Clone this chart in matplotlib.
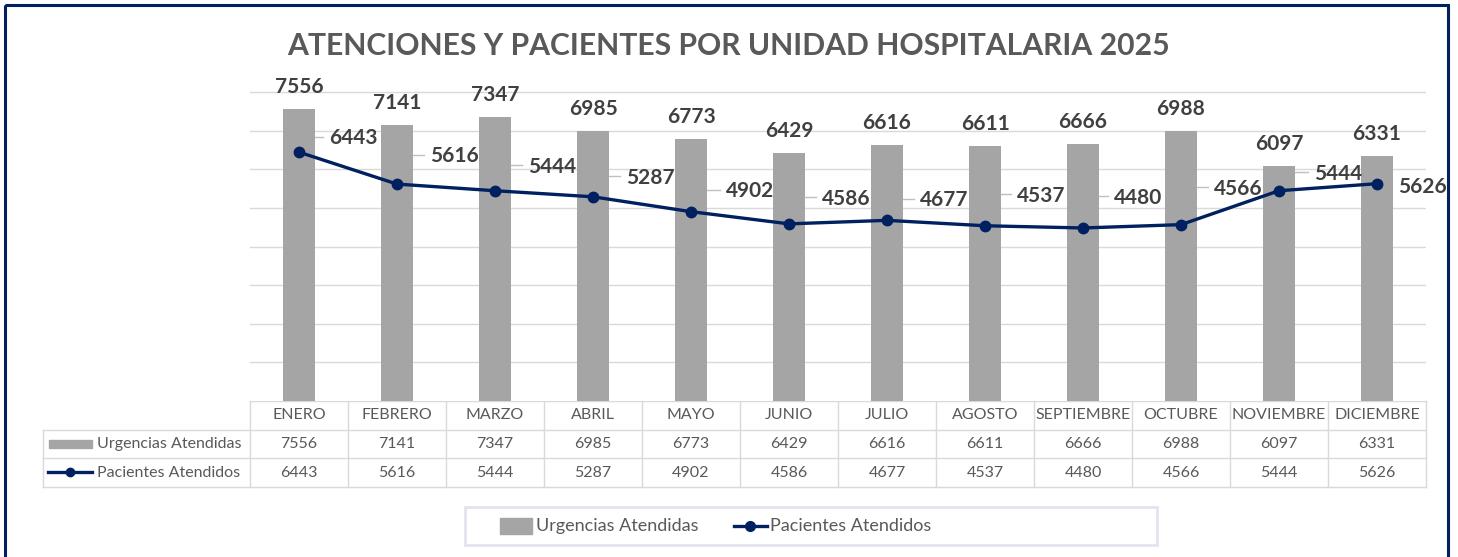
import matplotlib
matplotlib.use('Agg')
import matplotlib.pyplot as plt
from matplotlib.patches import Rectangle

# ── datos ──────────────────────────────────────────────────────────────
meses = ['ENERO', 'FEBRERO', 'MARZO', 'ABRIL', 'MAYO', 'JUNIO', 'JULIO',
         'AGOSTO', 'SEPTIEMBRE', 'OCTUBRE', 'NOVIEMBRE', 'DICIEMBRE']
urgencias = [7556, 7141, 7347, 6985, 6773, 6429, 6616, 6611, 6666, 6988, 6097, 6331]
pacientes = [6443, 5616, 5444, 5287, 4902, 4586, 4677, 4537, 4480, 4566, 5444, 5626]
serie_bar = 'Urgencias Atendidas'
serie_lin = 'Pacientes Atendidos'
titulo = 'ATENCIONES Y PACIENTES POR UNIDAD HOSPITALARIA 2025'

# posiciones de etiquetas de la línea (px: borde izq., base respecto al punto)
off_lin = [(30, 8), (33, 22), (33, 18), (33, 13), (35, 14.5), (33, 19),
           (33, 14), (32, 24), (31, 24), (33, 30), (35, 11), (21, -9.5)]

W, H = 1458, 557
GRIS = '#a5a5a5'; NAVY = '#002060'; TXT = '#595959'; LBL = '#404040'
GRID = '#d9d9d9'

plt.rcParams['font.family'] = ['Lato', 'DejaVu Sans']

fig = plt.figure(figsize=(W / 100, H / 100), dpi=100)


def fx(px): return px / W
def fy(py): return 1 - py / H


# área de gráfico
L, R, B = 250, 1426, 401
YMAX = 8050
pxu = 309 / 8000                 # px por unidad
T = B - YMAX * pxu
colw = (R - L) / 12

ax = fig.add_axes([fx(L), fy(B), fx(R) - fx(L), fy(T) - fy(B)])
x = list(range(12))
ax.bar(x, urgencias, width=0.33, color=GRIS, zorder=2)
ax.plot(x, pacientes, color=NAVY, lw=2.4, marker='o', ms=7.5, zorder=4)
ax.set_xlim(-0.5, 11.5)
ax.set_ylim(0, YMAX)
ax.set_yticks(range(1000, 8001, 1000))
ax.yaxis.grid(True, color=GRID, lw=1)
ax.set_axisbelow(True)
ax.tick_params(left=False, bottom=False, labelleft=False, labelbottom=False)
for s in ax.spines.values():
    s.set_visible(False)

for i, u in enumerate(urgencias):
    ax.annotate(f'{u}', (i, u), xytext=(0, 16), textcoords='offset pixels',
                ha='center', va='baseline', fontsize=15, fontweight='bold',
                color=LBL, annotation_clip=False)

for i, (p, (dx, dy)) in enumerate(zip(pacientes, off_lin)):
    ax.annotate(f'{p}', (i, p), xytext=(dx, dy), textcoords='offset pixels',
                ha='left', va='baseline', fontsize=15, fontweight='bold',
                color=LBL, zorder=5, annotation_clip=False)
    if i < 11:
        yl = p + (dy + 7.5) / pxu
        ax.plot([i + 0.165, i + (dx - 6) / colw], [yl, yl], color='#bfbfbf',
                lw=1, zorder=3)

fig.text(fx(728), fy(46), titulo, ha='center', va='center', fontsize=21.7,
         fontweight='bold', color=TXT)

# tabla de datos + leyenda (coordenadas de píxel)
ov = fig.add_axes([0, 0, 1, 1], zorder=-1)
ov.set_xlim(0, W); ov.set_ylim(H, 0); ov.axis('off')

ov.plot([L, R], [401, 401], color=GRID, lw=1)
for yy in (430, 458, 487):
    ov.plot([43, R], [yy, yy], color=GRID, lw=1)
for k in range(13):
    xx = L + k * colw
    ov.plot([xx, xx], [401, 487], color=GRID, lw=1)
ov.plot([43, 43], [430, 487], color=GRID, lw=1)

for i in range(12):
    cx = L + colw * (i + 0.5)
    ov.text(cx, 415, meses[i], ha='center', va='center', fontsize=11.5, color=TXT)
    ov.text(cx, 444, f'{urgencias[i]}', ha='center', va='center', fontsize=11.5, color=TXT)
    ov.text(cx, 473, f'{pacientes[i]}', ha='center', va='center', fontsize=11.5, color=TXT)

ov.add_patch(Rectangle((49, 440), 43, 8, color=GRIS))
ov.text(97, 444, serie_bar, ha='left', va='center', fontsize=11.5, color=TXT)
ov.plot([48, 92], [472, 472], color=NAVY, lw=2.4)
ov.plot([70], [472], marker='o', ms=6, color=NAVY)
ov.text(97, 473, serie_lin, ha='left', va='center', fontsize=11.5, color=TXT)

ov.add_patch(Rectangle((465, 507), 692, 38, fill=False, ec='#e6e1f0', lw=2))
ov.add_patch(Rectangle((500, 518), 32, 16, color=GRIS))
ov.text(536, 526, serie_bar, ha='left', va='center', fontsize=13, color=TXT)
ov.plot([734, 767], [526, 526], color=NAVY, lw=2.4)
ov.plot([750], [526], marker='o', ms=7, color=NAVY)
ov.text(770, 526, serie_lin, ha='left', va='center', fontsize=13, color=TXT)

ov.add_patch(Rectangle((5, 5), 1443, 560, fill=False, ec=NAVY, lw=2.2))

fig.savefig('out.png', dpi=100)
